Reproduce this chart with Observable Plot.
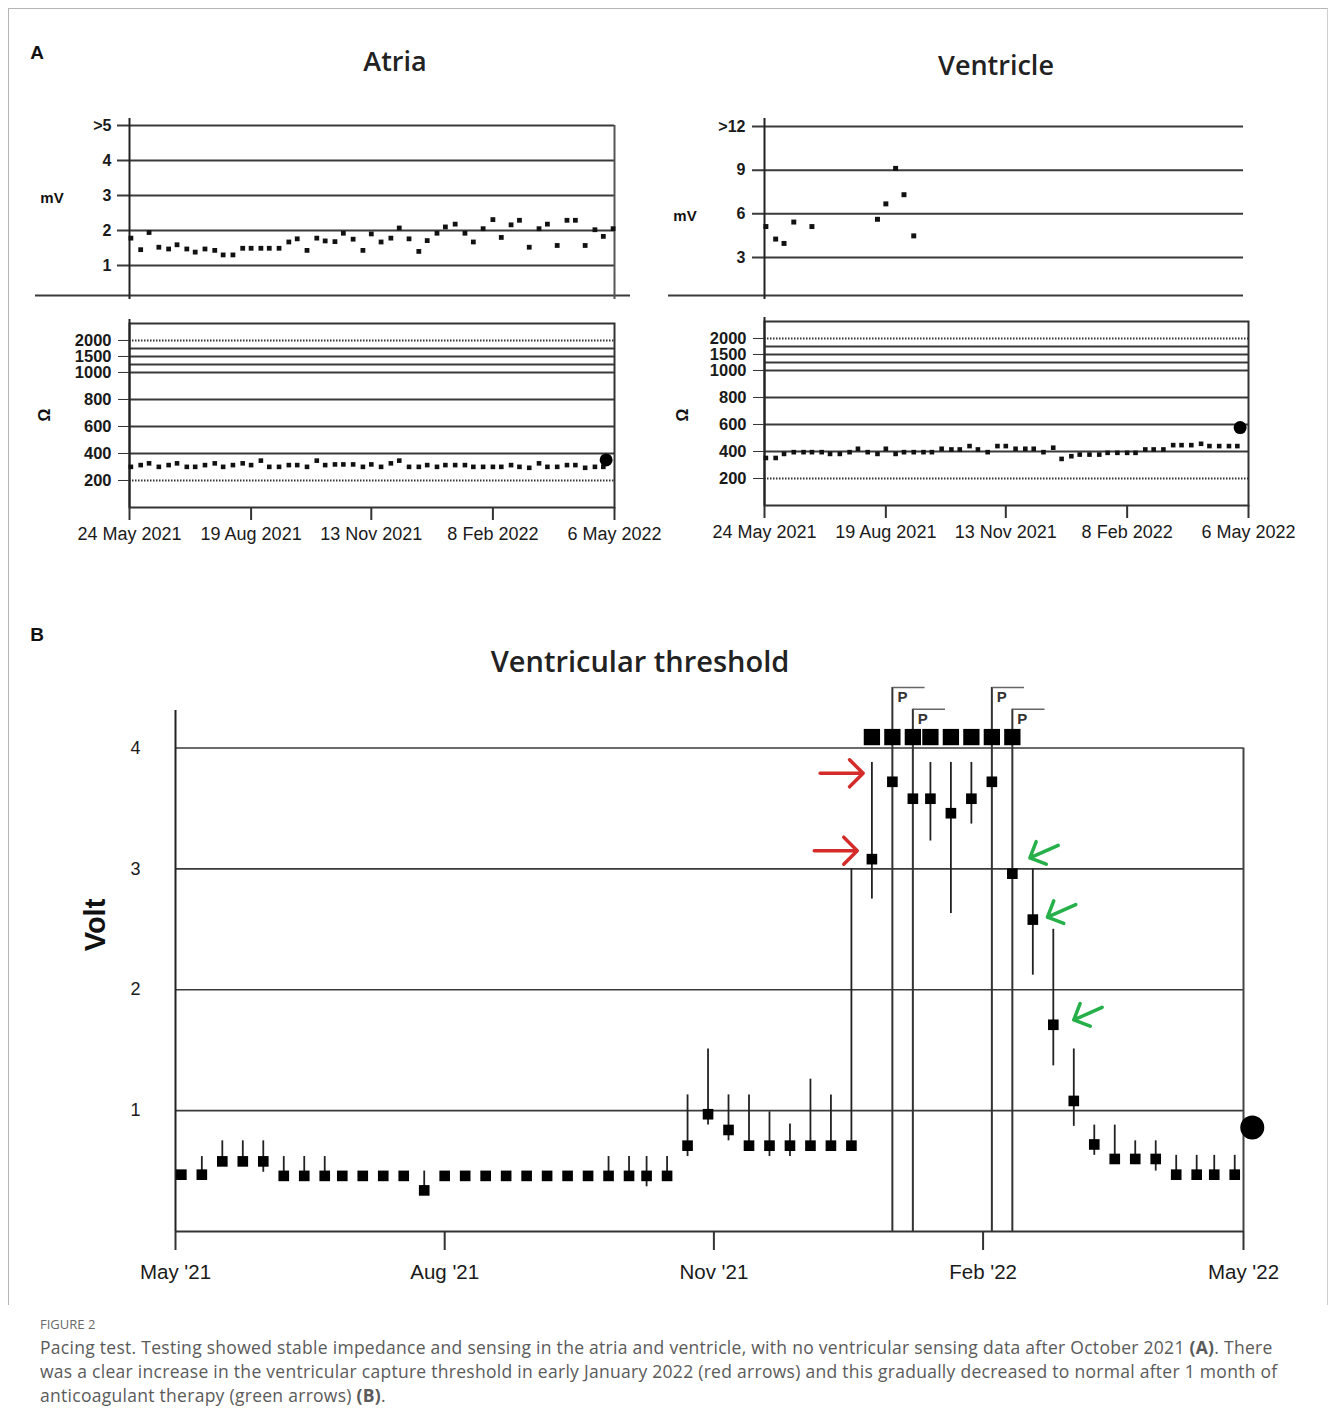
<!DOCTYPE html>
<html>
<head>
<meta charset="utf-8">
<script src="https://cdn.jsdelivr.net/npm/d3@7"></script>
<script src="https://cdn.jsdelivr.net/npm/@observablehq/plot@0.6"></script>
<style>
  html, body { margin: 0; padding: 0; background: #fff; }
  #fig { position: relative; width: 1329px; height: 1425px; overflow: hidden; font-family: "Liberation Sans", Arial, sans-serif; color: #111; }
  .t { position: absolute; white-space: nowrap; transform: translate(-50%, -50%); line-height: 1; }
  .rot { transform: translate(-50%, -50%) rotate(-90deg); }
  #border { position: absolute; left: 8px; top: 8px; width: 1318px; height: 1296px; border: 1px solid #b5b5b5; border-bottom: none; border-right-color: #d0d0d0; }
  .cap { position: absolute; left: 40px; white-space: nowrap; font-family: "Open Sans", sans-serif; color: #5a5a5a; }
  .capline { font-size: 17.5px; letter-spacing: 0.28px; }
</style>
</head>
<body>
<div id="fig">
  <div id="border"></div>
  <div class="t" style="left:37px;top:52px;font-weight:bold;font-size:19px;">A</div>
  <div class="t" style="left:395px;top:60px;font-family:'Open Sans',sans-serif;font-weight:600;font-size:27px;color:#222;">Atria</div>
  <div class="t" style="left:996px;top:64px;font-family:'Open Sans',sans-serif;font-weight:600;font-size:27px;color:#222;">Ventricle</div>
  <div class="t" style="left:52px;top:197px;font-weight:bold;font-size:15px;">mV</div>
  <div class="t" style="left:685px;top:215px;font-weight:bold;font-size:15px;">mV</div>
  <div class="t rot" style="left:45px;top:415px;font-weight:bold;font-size:16px;">Ω</div>
  <div class="t rot" style="left:683px;top:415px;font-weight:bold;font-size:16px;">Ω</div>
  <div class="t" style="left:37px;top:634px;font-weight:bold;font-size:19px;">B</div>
  <div class="t" style="left:640px;top:660px;font-family:'Open Sans',sans-serif;font-weight:600;font-size:29px;color:#222;">Ventricular threshold</div>
  <div class="t rot" style="left:95px;top:925px;font-weight:bold;font-size:29px;">Volt</div>
  <div class="cap" style="top:1315px;font-size:13px;color:#6a6a6a;">FIGURE 2</div>
  <div class="cap capline" style="top:1335px;">Pacing test. Testing showed stable impedance and sensing in the atria and ventricle, with no ventricular sensing data after October 2021 <b>(A)</b>. There</div>
  <div class="cap capline" style="top:1359px;">was a clear increase in the ventricular capture threshold in early January 2022 (red arrows) and this gradually decreased to normal after 1 month of</div>
  <div class="cap capline" style="top:1383px;">anticoagulant therapy (green arrows) <b>(B)</b>.</div>
</div>
<script>
// ---------------- DATA ----------------
// Panel A: device interrogation dates (24 May 2021 - 6 May 2022)
const aDomainDates = ["2021-05-24", "2022-05-06"];
const aTickDates = ["2021-05-24", "2021-08-19", "2021-11-13", "2022-02-08", "2022-05-06"];
const aTickLabels = ["24 May 2021", "19 Aug 2021", "13 Nov 2021", "8 Feb 2022", "6 May 2022"];
const aDates = [
  "2021-05-25","2021-06-01","2021-06-07","2021-06-14","2021-06-21","2021-06-27","2021-07-04","2021-07-10","2021-07-17","2021-07-24",
  "2021-07-30","2021-08-06","2021-08-13","2021-08-19","2021-08-26","2021-09-01","2021-09-08","2021-09-15","2021-09-21","2021-09-28",
  "2021-10-05","2021-10-11","2021-10-18","2021-10-24","2021-10-31","2021-11-07","2021-11-13","2021-11-20","2021-11-27","2021-12-03",
  "2021-12-10","2021-12-17","2021-12-23","2021-12-30","2022-01-05","2022-01-12","2022-01-19","2022-01-25","2022-02-01","2022-02-08",
  "2022-02-14","2022-02-21","2022-02-27","2022-03-06","2022-03-13","2022-03-19","2022-03-26","2022-04-02","2022-04-08","2022-04-15",
  "2022-04-22","2022-04-28","2022-05-05"
];
// Atrial sensing (mV)
const atriaSensing = [
  1.78,1.45,1.94,1.52,1.47,1.59,1.47,1.38,1.47,1.43,
  1.30,1.30,1.49,1.49,1.49,1.49,1.49,1.67,1.76,1.43,
  1.78,1.70,1.68,1.92,1.75,1.43,1.90,1.67,1.78,2.07,
  1.76,1.40,1.71,1.92,2.10,2.18,1.92,1.67,2.05,2.31,
  1.80,2.16,2.29,1.52,2.05,2.18,1.57,2.29,2.29,1.57,
  2.02,1.83,2.05
];
const aMvTicks = [1, 2, 3, 4, 5];
const aMvTickLabels = ["1", "2", "3", "4", ">5"];
// Atrial impedance (Ohm)
const atriaImpedance = [
  301,314,327,301,314,327,301,301,314,327,
  301,314,327,314,347,301,301,314,314,301,
  347,314,319,319,319,301,319,301,327,347,
  301,301,314,301,314,314,314,301,301,301,
  301,314,301,294,327,301,301,314,314,294,
  301,301
];
const atriaLastDate = "2022-04-30";
const atriaLastImpedance = 352;
// Ventricular sensing (mV) - no data after October 2021
const ventSensingDates = ["2021-05-25","2021-06-01","2021-06-07","2021-06-14","2021-06-27","2021-08-13","2021-08-19","2021-08-26","2021-09-01","2021-09-08"];
const ventSensing = [5.12,4.26,3.96,5.43,5.12,5.62,6.68,9.12,7.31,4.48];
const vMvTicks = [3, 6, 9, 12];
const vMvTickLabels = ["3", "6", "9", ">12"];
// Ventricular impedance (Ohm)
const ventImpedance = [
  352,352,382,395,395,395,395,382,382,395,
  420,395,382,420,382,395,395,395,395,420,
  415,415,440,415,395,440,440,420,420,420,
  395,428,345,365,377,377,377,390,390,390,
  390,415,415,415,447,447,447,457,440,440,
  440,440
];
const ventLastDate = "2022-04-30";
const ventLastImpedance = 577;
const ohmTicks = [200, 400, 600, 800, 1000, 1500, 2000];
const ohmSolidGrid = [400, 600, 800, 1000, 1250, 1500, 1750];
const ohmDottedGrid = [200, 2000];
const ohmMax = 2530;        // top of the impedance frame
const ohmBreak = 1000;      // axis is compressed above this value
const ohmUpperRatio = 0.237; // compression factor above the break

// Panel B: ventricular capture threshold (V)
const bDomainDates = ["2021-05-01", "2022-05-01"];
const bTickDates = ["2021-05-01", "2021-08-01", "2021-11-01", "2022-02-01", "2022-05-01"];
const bTickLabels = ["May '21", "Aug '21", "Nov '21", "Feb '22", "May '22"];
const bYTicks = [1, 2, 3, 4];
const bDates = [
  "2021-05-03","2021-05-10","2021-05-17","2021-05-24","2021-05-31","2021-06-07","2021-06-14","2021-06-21","2021-06-27","2021-07-04",
  "2021-07-11","2021-07-18","2021-07-25","2021-08-01","2021-08-08","2021-08-15","2021-08-22","2021-08-29","2021-09-05","2021-09-12",
  "2021-09-19","2021-09-26","2021-10-03","2021-10-09","2021-10-16","2021-10-23","2021-10-30","2021-11-06","2021-11-13","2021-11-20",
  "2021-11-27","2021-12-04","2021-12-11","2021-12-18","2021-12-25","2022-01-01","2022-01-08","2022-01-14","2022-01-21","2022-01-28",
  "2022-02-04","2022-02-11","2022-02-18","2022-02-25","2022-03-04","2022-03-11","2022-03-18","2022-03-25","2022-04-01","2022-04-08",
  "2022-04-15","2022-04-21","2022-04-28"
];
const bValues = [
  0.47,0.47,0.58,0.58,0.58,0.46,0.46,0.46,0.46,0.46,
  0.46,0.46,0.34,0.46,0.46,0.46,0.46,0.46,0.46,0.46,
  0.46,0.46,0.46,0.46,0.46,0.71,0.97,0.84,0.71,0.71,
  0.71,0.71,0.71,0.71,3.08,3.72,3.58,3.58,3.46,3.58,
  3.72,2.96,2.58,1.71,1.08,0.72,0.60,0.60,0.60,0.47,
  0.47,0.47,0.47
];
const bLow = [
  null,0.47,0.58,0.58,0.49,0.46,0.46,0.46,null,null,
  null,null,0.34,null,null,null,null,null,null,null,
  null,0.46,0.46,0.37,0.46,0.62,0.88,0.75,0.71,0.62,
  0.62,0.71,0.71,0.71,2.75,null,null,3.23,2.63,3.37,
  null,null,2.12,1.37,0.87,0.63,0.60,0.60,0.50,0.47,
  0.47,0.47,0.47
];
const bHigh = [
  null,0.62,0.75,0.75,0.75,0.62,0.62,0.62,null,null,
  null,null,0.50,null,null,null,null,null,null,null,
  null,0.62,0.62,0.62,0.62,1.13,1.51,1.13,1.13,0.99,
  0.89,1.26,1.13,3.00,3.88,null,null,3.88,3.88,3.88,
  null,null,3.00,2.50,1.51,0.88,0.88,0.75,0.75,0.63,
  0.63,0.63,0.63
];
// loss of capture at maximum output (> 4 V)
const maxOutDates = ["2021-12-25","2022-01-01","2022-01-08","2022-01-14","2022-01-21","2022-01-28","2022-02-04","2022-02-11"];
const maxOutLevel = 4.09;
// "P" event flags
const pDates = ["2022-01-01","2022-01-08","2022-02-04","2022-02-11"];
const pTops = [4.5, 4.32, 4.5, 4.32];
const pFlagDays = 11;
const lastThresholdDate = "2022-05-04";
const lastThreshold = 0.86;
// annotation arrows: tip positions
const redArrowDates = ["2021-12-22", "2021-12-20"];
const redArrowValues = [3.79, 3.15];
const greenArrowDates = ["2022-02-17", "2022-02-23", "2022-03-04"];
const greenArrowValues = [3.09, 2.60, 1.75];

// ---------------- HELPERS ----------------
const P = d3.utcParse("%Y-%m-%d");
const fig = document.getElementById("fig");
const fmt = (ticks, labels) => d => { const i = ticks.findIndex(t => +t === +d); return i < 0 ? "" : labels[i]; };
function place(svg, left, top) {
  svg.style.position = "absolute";
  svg.style.left = left + "px";
  svg.style.top = top + "px";
  svg.style.overflow = "visible";
  fig.appendChild(svg);
}
const baseStyle = {background: "transparent", fontFamily: "'Liberation Sans', Arial, sans-serif", color: "#1a1a1a", overflow: "visible"};
const gridColor = "#3a3a3a";
// broken impedance axis: linear to 1000 Ω, compressed above
const ohmY = v => v <= ohmBreak ? v : ohmBreak + (v - ohmBreak) * ohmUpperRatio;

const aDomain = aDomainDates.map(P);
const aTicks = aTickDates.map(P);

// ---------------- PANEL A: Atria mV ----------------
{
  const yDom = [0.14, 5.2];
  const data = atriaSensing.map((v, i) => ({date: P(aDates[i]), v}));
  const svg = Plot.plot({
    width: 660, height: 205, marginLeft: 129, marginRight: 46, marginTop: 18, marginBottom: 10,
    style: baseStyle,
    x: {type: "utc", domain: aDomain, axis: null, label: null},
    y: {domain: yDom, axis: null, label: null},
    marks: [
      Plot.ruleY(aMvTicks, {stroke: gridColor, strokeWidth: 2, insetLeft: -12}),
      Plot.ruleY([yDom[0]], {stroke: gridColor, strokeWidth: 2, insetLeft: -94, insetRight: -16}),
      Plot.ruleX([aDomain[0]], {stroke: "#222", strokeWidth: 2, insetBottom: -4, insetTop: 0}),
      Plot.ruleX([aDomain[1]], {y1: 5, y2: yDom[0], stroke: "#555", strokeWidth: 2, insetBottom: -4}),
      Plot.axisY({ticks: aMvTicks, tickFormat: fmt(aMvTicks, aMvTickLabels), tickSize: 0, tickPadding: 18, fontSize: 16, fontWeight: "bold", label: null}),
      Plot.dot(data, {x: "date", y: "v", symbol: "square", r: 2.7, fill: "#111", stroke: null})
    ]
  });
  place(svg, 0, 100);
}

// ---------------- PANEL A: Ohm panels ----------------
function ohmPlot(values, lastDate, lastVal, xRange, yRange, width) {
  const data = values.map((v, i) => ({date: P(aDates[i]), v: ohmY(v)}));
  const tickPos = ohmTicks.map(ohmY);
  return Plot.plot({
    width, height: 250, marginLeft: xRange[0], marginRight: width - xRange[1], marginTop: yRange[1], marginBottom: 250 - yRange[0],
    style: baseStyle,
    x: {type: "utc", domain: aDomain, range: xRange, axis: null, label: null},
    y: {domain: [0, ohmY(ohmMax)], range: yRange, axis: null, label: null},
    marks: [
      Plot.ruleY(ohmSolidGrid.map(ohmY), {stroke: gridColor, strokeWidth: 2}),
      Plot.ruleY(ohmDottedGrid.map(ohmY), {stroke: "#333", strokeWidth: 2, strokeDasharray: "1.5,1.5"}),
      Plot.frame({stroke: "#333", strokeWidth: 2}),
      Plot.ruleX([aDomain[0]], {stroke: "#222", strokeWidth: 2, insetTop: -4}),
      Plot.axisY({ticks: tickPos, tickSize: 11, tickPadding: 7, fontSize: 16.5, fontWeight: "bold", tickFormat: fmt(tickPos, ohmTicks.map(String)), stroke: "#333", label: null}),
      Plot.axisX({ticks: aTicks, tickFormat: fmt(aTicks, aTickLabels), tickSize: 13, tickPadding: 7, fontSize: 18, stroke: "#333", strokeWidth: 2, label: null}),
      Plot.dot(data, {x: "date", y: "v", symbol: "square", r: 2.6, fill: "#111", stroke: null}),
      Plot.dot([{date: P(lastDate), v: ohmY(lastVal)}], {x: "date", y: "v", r: 6.5, fill: "#000", stroke: null})
    ]
  });
}
place(ohmPlot(atriaImpedance, atriaLastDate, atriaLastImpedance, [129, 614], [197, 13], 660), 0, 310);

// ---------------- PANEL A: Ventricle mV ----------------
{
  const yDom = [0.38, 12.55];
  const data = ventSensing.map((v, i) => ({date: P(ventSensingDates[i]), v}));
  const svg = Plot.plot({
    width: 689, height: 205, marginLeft: 124, marginRight: 81, marginTop: 18, marginBottom: 10,
    style: baseStyle,
    x: {type: "utc", domain: aDomain, axis: null, label: null},
    y: {domain: yDom, axis: null, label: null},
    marks: [
      Plot.ruleY(vMvTicks, {stroke: gridColor, strokeWidth: 2, insetLeft: -12, insetRight: 5}),
      Plot.ruleY([yDom[0]], {stroke: gridColor, strokeWidth: 2, insetLeft: -96, insetRight: 5}),
      Plot.ruleX([aDomain[0]], {stroke: "#222", strokeWidth: 2, insetBottom: -4}),
      Plot.axisY({ticks: vMvTicks, tickFormat: fmt(vMvTicks, vMvTickLabels), tickSize: 0, tickPadding: 19, fontSize: 16, fontWeight: "bold", label: null}),
      Plot.dot(data, {x: "date", y: "v", symbol: "square", r: 2.8, fill: "#111", stroke: null})
    ]
  });
  place(svg, 640, 100);
}

// ---------------- PANEL A: Ventricle Ohm ----------------
place(ohmPlot(ventImpedance, ventLastDate, ventLastImpedance, [124, 608], [195, 11], 689), 640, 310);

// ---------------- PANEL B ----------------
{
  const bDomain = bDomainDates.map(P);
  const bTicks = bTickDates.map(P);
  const data = bValues.map((v, i) => ({date: P(bDates[i]), v, lo: bLow[i], hi: bHigh[i]}));
  const bars = data.filter(d => d.lo != null && d.hi != null);
  const pEvents = pDates.map((d, i) => ({date: P(d), top: pTops[i], end: d3.utcDay.offset(P(d), pFlagDays)}));
  const maxOut = maxOutDates.map(d => ({date: P(d), v: maxOutLevel}));
  const redTips = redArrowDates.map((d, i) => ({date: P(d), v: redArrowValues[i]}));
  const greenTips = greenArrowDates.map((d, i) => ({date: P(d), v: greenArrowValues[i]}));
  const svg = Plot.plot({
    width: 1329, height: 620, marginLeft: 175, marginRight: 86, marginTop: 7, marginBottom: 69,
    style: baseStyle,
    x: {type: "utc", domain: bDomain, axis: null, label: null},
    y: {domain: [0, 4.5], axis: null, label: null},
    marks: [
      Plot.ruleY(bYTicks, {stroke: gridColor, strokeWidth: 1.6}),
      Plot.ruleY([0], {stroke: "#333", strokeWidth: 2}),
      Plot.ruleX([bDomain[0]], {y1: 0, y2: 4.31, stroke: "#222", strokeWidth: 2}),
      Plot.ruleX([bDomain[1]], {y1: 0, y2: 4, stroke: "#444", strokeWidth: 2}),
      Plot.axisY({ticks: bYTicks, tickSize: 0, tickPadding: 35, fontSize: 18, tickFormat: d => String(d), label: null}),
      Plot.axisX({ticks: bTicks, tickFormat: fmt(bTicks, bTickLabels), tickSize: 19, tickPadding: 14, fontSize: 20.5, stroke: "#333", strokeWidth: 2, label: null}),
      Plot.ruleX(bars, {x: "date", y1: "lo", y2: "hi", stroke: "#222", strokeWidth: 1.8}),
      Plot.ruleX(pEvents, {x: "date", y1: 0, y2: "top", stroke: "#333", strokeWidth: 2}),
      Plot.link(pEvents, {x1: "date", x2: "end", y1: "top", y2: "top", stroke: "#666", strokeWidth: 1.5}),
      Plot.text(pEvents, {x: "date", y: "top", text: () => "P", dx: 10, dy: 10, fontSize: 15, fontWeight: "bold", fill: "#333"}),
      Plot.dot(maxOut, {x: "date", y: "v", symbol: "square", r: 9.2, fill: "#000", stroke: null}),
      Plot.dot(data, {x: "date", y: "v", symbol: "square", r: 6, fill: "#000", stroke: null}),
      Plot.dot([{date: P(lastThresholdDate), v: lastThreshold}], {x: "date", y: "v", r: 12, fill: "#000", stroke: null}),
      Plot.vector(redTips, {x: "date", y: "v", anchor: "end", rotate: 90, length: 43, r: 5.5, stroke: "#d42b2b", strokeWidth: 3.5, strokeLinecap: "round", strokeLinejoin: "round"}),
      Plot.vector(greenTips, {x: "date", y: "v", anchor: "end", rotate: 246, length: 31, r: 7, stroke: "#27b04a", strokeWidth: 3.5, strokeLinecap: "round", strokeLinejoin: "round"})
    ]
  });
  place(svg, 0, 680);
}
</script>
</body>
</html>
